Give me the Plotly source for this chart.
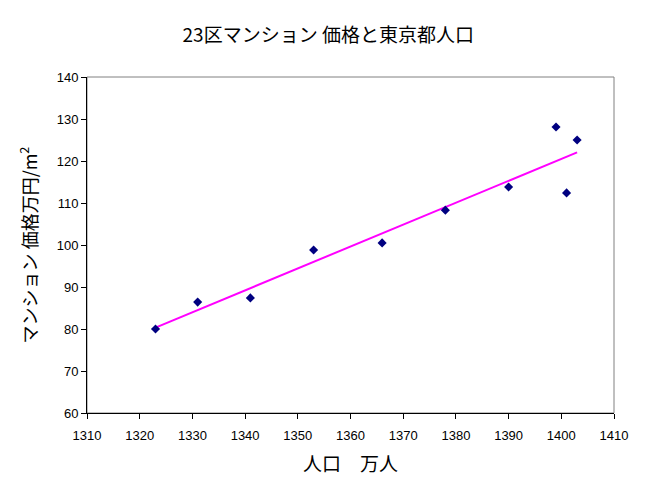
import numpy as np
import plotly.graph_objects as go

# 東京都人口 (万人) と 23区マンション価格 (万円/m2)
population = [1323, 1331, 1341, 1353, 1366, 1378, 1390, 1399, 1401, 1403]
price = [80.0, 86.4, 87.4, 98.8, 100.5, 108.3, 113.8, 128.1, 112.4, 125.0]

title_text = "23区マンション 価格と東京都人口"
x_title = "人口　万人"
y_title = "マンション 価格万円/m<sup>2</sup>"

jp_font = "Noto Sans CJK JP"
num_font = "Liberation Sans"

# linear trendline (least squares)
slope, intercept = np.polyfit(population, price, 1)
trend_x = [min(population), max(population)]
trend_y = [slope * v + intercept for v in trend_x]

fig = go.Figure()
fig.add_trace(go.Scatter(
    x=trend_x,
    y=trend_y,
    mode="lines",
    line=dict(color="#FF00FF", width=2),
    showlegend=False,
    hoverinfo="skip"
))
fig.add_trace(go.Scatter(
    x=population,
    y=price,
    mode="markers",
    marker=dict(symbol="diamond", color="#000080", size=7),
    showlegend=False
))

fig.update_layout(
    width=647,
    height=494,
    margin=dict(l=79, r=41, t=69, b=89),
    plot_bgcolor="white",
    paper_bgcolor="white",
    font=dict(family=jp_font, color="black"),
    title=dict(
        text=title_text,
        x=0.495,
        xanchor="center",
        y=0.945,
        yanchor="middle",
        font=dict(family=jp_font, size=19, color="black")
    ),
)
fig.update_xaxes(
    range=[1310, 1410],
    dtick=10,
    showgrid=False,
    zeroline=False,
    showline=True,
    linecolor="black",
    linewidth=1,
    ticks="outside",
    ticklen=5,
    tickcolor="black",
    ticklabelstandoff=5,
    tickfont=dict(family=num_font, size=13),
    title=dict(text=x_title, font=dict(family=jp_font, size=19), standoff=16),
)
fig.update_yaxes(
    range=[60, 140],
    dtick=10,
    showgrid=False,
    zeroline=False,
    showline=True,
    linecolor="black",
    linewidth=1,
    ticks="outside",
    ticklen=5,
    tickcolor="black",
    tickfont=dict(family=num_font, size=13),
    title=dict(text=y_title, font=dict(family=jp_font, size=18), standoff=14),
)
# gray plot-area border (top and right)
fig.add_shape(
    type="rect", xref="paper", yref="paper",
    x0=0, y0=0, x1=1, y1=1,
    line=dict(color="#808080", width=1),
    layer="below"
)

fig.write_html("out.html")
